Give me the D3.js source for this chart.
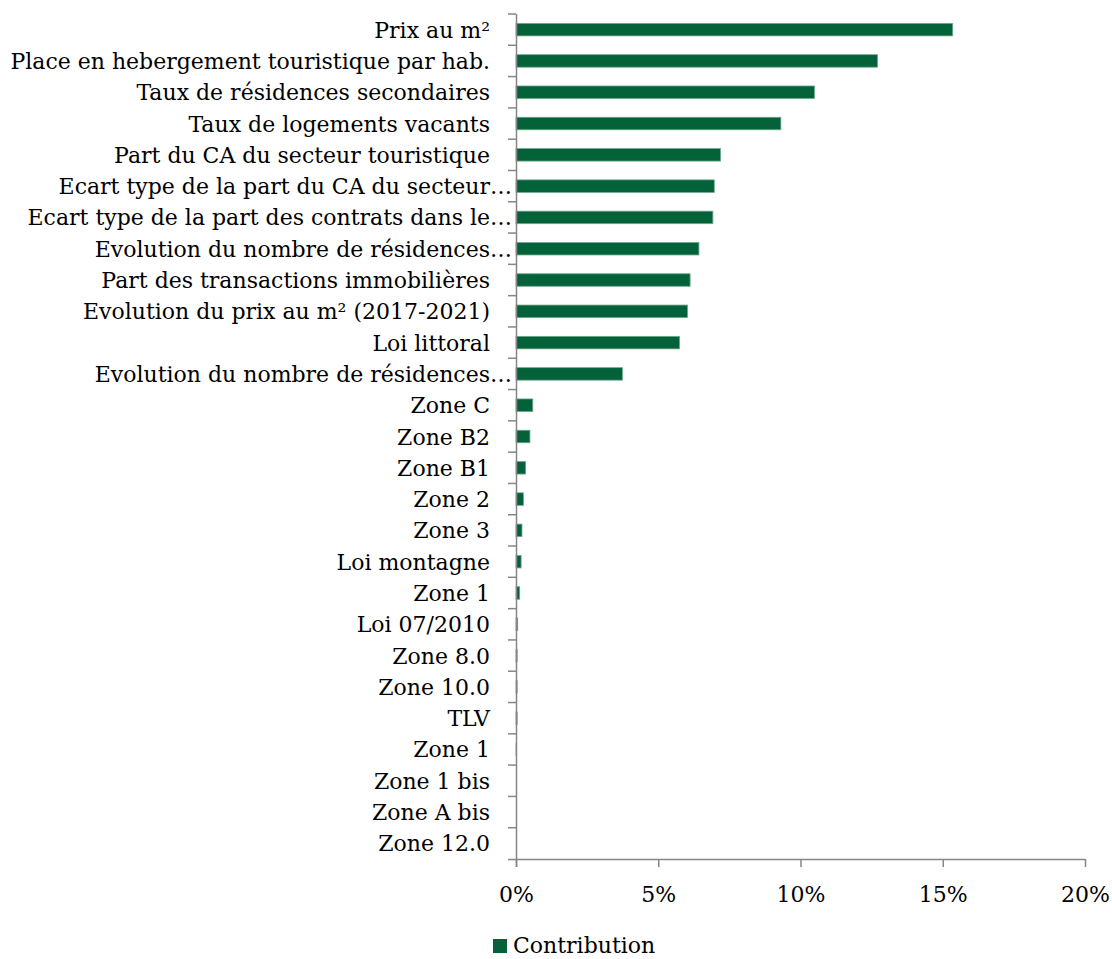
<!DOCTYPE html>
<html>
<head>
<meta charset="utf-8">
<script src="https://cdn.jsdelivr.net/npm/d3@7"></script>
<style>
  html, body { margin: 0; padding: 0; background: #fff; }
  svg { display: block; }
  text { font-family: "DejaVu Serif", serif; fill: #000; }
</style>
</head>
<body>
<svg id="chart" width="1112" height="959"></svg>
<script>
const categories = [
  "Prix au m²",
  "Place en hebergement touristique par hab.",
  "Taux de résidences secondaires",
  "Taux de logements vacants",
  "Part du CA du secteur touristique",
  "Ecart type de la part du CA du secteur…",
  "Ecart type de la part des contrats dans le…",
  "Evolution du nombre de résidences…",
  "Part des transactions immobilières",
  "Evolution du prix au m² (2017-2021)",
  "Loi littoral",
  "Evolution du nombre de résidences…",
  "Zone C",
  "Zone B2",
  "Zone B1",
  "Zone 2",
  "Zone 3",
  "Loi montagne",
  "Zone 1",
  "Loi 07/2010",
  "Zone 8.0",
  "Zone 10.0",
  "TLV",
  "Zone 1",
  "Zone 1 bis",
  "Zone A bis",
  "Zone 12.0"
];
const contribution = [
  0.1535, 0.1271, 0.1049, 0.0931, 0.0719, 0.0697, 0.0692, 0.0643, 0.0612,
  0.0603, 0.0575, 0.0374, 0.0059, 0.0049, 0.0034, 0.0026, 0.0021, 0.0018,
  0.0013, 0.0006, 0.0004, 0.0004, 0.0004, 0.0001, 0, 0, 0
];
const xTicks = [0, 0.05, 0.10, 0.15, 0.20];
const seriesName = "Contribution";

const data = categories.map((c, i) => ({ key: i, label: c, value: contribution[i] }));

const svg = d3.select("#chart");
const plotLeft = 516, plotRight = 1085, plotTop = 14, plotBottom = 859;
const fontSize = "22px";

const x = d3.scaleLinear().domain([0, 0.20]).range([plotLeft, plotRight]);
const y = d3.scaleBand()
  .domain(data.map(d => d.key))
  .range([plotTop, plotBottom])
  .paddingInner(0.6)
  .paddingOuter(0.3);

const axisColor = "#868686";
const barFill = "#03623a";
const barStroke = "#6fa98b";

// bars
svg.append("g").selectAll("rect")
  .data(data)
  .join("rect")
  .attr("x", x(0))
  .attr("y", d => y(d.key))
  .attr("width", d => Math.max(0, x(d.value) - x(0)))
  .attr("height", y.bandwidth())
  .attr("fill", barFill)
  .attr("stroke", d => d.value > 0 ? barStroke : "none")
  .attr("stroke-width", 0.8);

// x axis
const xAxis = d3.axisBottom(x)
  .tickValues(xTicks)
  .tickFormat(d3.format(".0%"))
  .tickSize(8)
  .tickSizeOuter(0);
const gx = svg.append("g")
  .attr("transform", `translate(0,${plotBottom})`)
  .call(xAxis);
gx.select(".domain").remove();
gx.append("line")
  .attr("x1", plotLeft - 8).attr("x2", plotRight)
  .attr("y1", 0.5).attr("y2", 0.5)
  .attr("stroke", axisColor).attr("stroke-width", 1.5);
gx.selectAll(".tick line").attr("stroke", axisColor).attr("stroke-width", 1.5);
gx.selectAll(".tick text")
  .attr("y", 43)
  .attr("dy", null)
  .style("font-family", '"DejaVu Serif", serif')
  .style("font-size", fontSize)
  .attr("fill", "#000");

// y axis line and boundary ticks
const gy = svg.append("g");
gy.append("line")
  .attr("x1", plotLeft + 0.5).attr("x2", plotLeft + 0.5)
  .attr("y1", plotTop).attr("y2", plotBottom + 8)
  .attr("stroke", axisColor).attr("stroke-width", 1.5);
const step = y.step();
const boundaries = d3.range(categories.length).map(i => y(i) - step * 0.3);
gy.selectAll("line.tk")
  .data(boundaries)
  .join("line")
  .attr("class", "tk")
  .attr("x1", plotLeft - 8).attr("x2", plotLeft)
  .attr("y1", d => d).attr("y2", d => d)
  .attr("stroke", axisColor).attr("stroke-width", 1.5);

// category labels
svg.append("g").selectAll("text")
  .data(data)
  .join("text")
  .attr("x", d => d.label.endsWith("…") ? 512 : 490)
  .attr("y", d => y(d.key) + y.bandwidth() / 2 + 8)
  .attr("text-anchor", "end")
  .style("font-size", fontSize)
  .text(d => d.label);

// legend
const lg = svg.append("g");
lg.append("rect")
  .attr("x", 493).attr("y", 939)
  .attr("width", 14).attr("height", 14)
  .attr("fill", barFill);
lg.append("text")
  .attr("x", 513).attr("y", 953)
  .style("font-size", fontSize)
  .text(seriesName);
</script>
</body>
</html>
